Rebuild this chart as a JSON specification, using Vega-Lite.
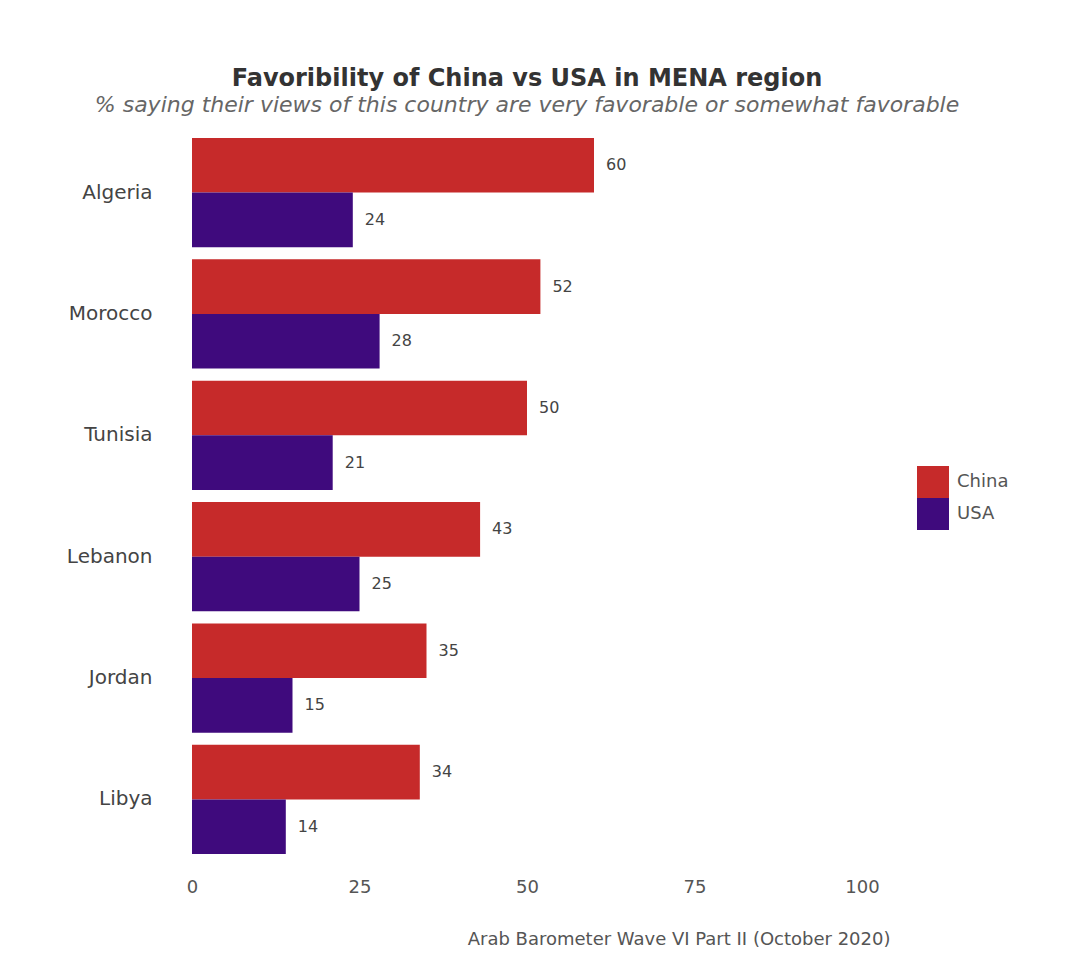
{
  "$schema": "https://vega.github.io/schema/vega-lite/v6.json",
  "autosize": "none",
  "padding": {"left": 192, "top": 138, "right": 218, "bottom": 104},
  "width": 670,
  "height": 716,
  "background": "white",
  "config": {
    "font": "DejaVu Sans",
    "view": {"stroke": null}
  },
  "title": {
    "text": "Favoribility of China vs USA in MENA region",
    "subtitle": "% saying their views of this country are very favorable or somewhat favorable",
    "anchor": "middle",
    "font": "DejaVu Sans",
    "fontSize": 24,
    "fontWeight": "bold",
    "color": "#333333",
    "subtitleFont": "DejaVu Sans",
    "subtitleFontSize": 22,
    "subtitleFontStyle": "italic",
    "subtitleColor": "#666666",
    "subtitlePadding": 4,
    "offset": 22
  },
  "data": {
    "values": [
      {"country": "Algeria", "series": "China", "value": 60},
      {"country": "Algeria", "series": "USA", "value": 24},
      {"country": "Morocco", "series": "China", "value": 52},
      {"country": "Morocco", "series": "USA", "value": 28},
      {"country": "Tunisia", "series": "China", "value": 50},
      {"country": "Tunisia", "series": "USA", "value": 21},
      {"country": "Lebanon", "series": "China", "value": 43},
      {"country": "Lebanon", "series": "USA", "value": 25},
      {"country": "Jordan", "series": "China", "value": 35},
      {"country": "Jordan", "series": "USA", "value": 15},
      {"country": "Libya", "series": "China", "value": 34},
      {"country": "Libya", "series": "USA", "value": 14}
    ]
  },
  "encoding": {
    "y": {
      "field": "country",
      "type": "nominal",
      "sort": ["Algeria", "Morocco", "Tunisia", "Lebanon", "Jordan", "Libya"],
      "scale": {"paddingInner": 0.1, "paddingOuter": 0},
      "axis": {
        "title": null,
        "domain": false,
        "ticks": false,
        "labelPadding": 40,
        "labelFontSize": 20,
        "labelColor": "#444444"
      }
    },
    "yOffset": {
      "field": "series",
      "type": "nominal",
      "sort": ["China", "USA"],
      "scale": {"paddingInner": 0, "paddingOuter": 0}
    },
    "x": {
      "field": "value",
      "type": "quantitative",
      "scale": {"domain": [0, 100], "nice": false},
      "axis": {
        "values": [0, 25, 50, 75, 100],
        "grid": false,
        "domain": false,
        "ticks": false,
        "labelPadding": 24,
        "labelFontSize": 18,
        "labelColor": "#555555",
        "labelFlush": false,
        "title": "Arab Barometer Wave VI Part II (October 2020)",
        "titleFontSize": 18,
        "titleFontWeight": "normal",
        "titleColor": "#555555",
        "titleAnchor": "end",
        "titleAlign": "right",
        "titleX": 698,
        "titlePadding": 34
      }
    }
  },
  "layer": [
    {
      "mark": {"type": "bar"},
      "encoding": {
        "color": {
          "field": "series",
          "type": "nominal",
          "scale": {"domain": ["China", "USA"], "range": ["#c62a2a", "#3f0a7d"]},
          "legend": {
            "title": null,
            "orient": "none",
            "legendX": 725,
            "legendY": 328,
            "symbolType": "square",
            "symbolSize": 1024,
            "symbolStrokeWidth": 0,
            "symbolOpacity": 1,
            "rowPadding": 0,
            "labelFontSize": 18,
            "labelColor": "#555555",
            "labelOffset": 8
          }
        }
      }
    },
    {
      "mark": {"type": "text", "align": "left", "baseline": "middle", "dx": 12, "fontSize": 16, "color": "#444444"},
      "encoding": {
        "text": {"field": "value", "type": "quantitative"}
      }
    }
  ]
}
